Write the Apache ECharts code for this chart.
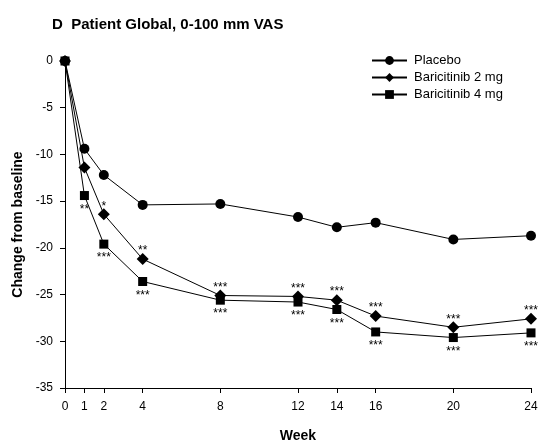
<!DOCTYPE html>
<html>
<head>
<meta charset="utf-8">
<script src="https://cdn.jsdelivr.net/npm/echarts@6/dist/echarts.min.js"></script>
<style>
  html, body { margin: 0; padding: 0; background: #fff; }
  #chart { width: 542px; height: 444px; }
</style>
</head>
<body>
<div id="chart"></div>
<script>
// Weeks of assessment
const weeks = [0, 1, 2, 4, 8, 12, 14, 16, 20, 24];
const yTicks = [0, -5, -10, -15, -20, -25, -30, -35];

// Mean change from baseline, Patient Global VAS (mm)
const placebo = [0, -9.4, -12.2, -15.4, -15.3, -16.7, -17.8, -17.3, -19.1, -18.7];
const bari2 = [0, -11.4, -16.4, -21.2, -25.1, -25.2, -25.6, -27.3, -28.5, -27.6];
const bari4 = [0, -14.4, -19.6, -23.6, -25.6, -25.8, -26.6, -29.0, -29.6, -29.1];

// Significance markers vs placebo
const sig2 = ['', '', '*', '**', '***', '***', '***', '***', '***', '***'];
const sig4 = ['', '**', '***', '***', '***', '***', '***', '***', '***', '***'];

const FONT = '"Liberation Sans", Arial, sans-serif';

function pairs(vals, sig) {
  return weeks.map((w, i) => ({ value: [w, vals[i]], sig: sig ? sig[i] : '' }));
}

// asterisks sit high in the em box, so the offset is measured from the marker centre
const sigLabel = dy => ({
  show: true,
  position: 'inside',
  offset: [0, dy],
  fontFamily: FONT,
  fontSize: 12,
  color: '#000',
  formatter: p => p.data.sig
});

const chart = echarts.init(document.getElementById('chart'), null, { renderer: 'canvas' });

chart.setOption({
  animation: false,
  backgroundColor: '#fff',
  title: {
    text: 'D  Patient Global, 0-100 mm VAS',
    left: 47,
    top: 12,
    textStyle: { fontFamily: FONT, fontSize: 15, fontWeight: 'bold', color: '#000' }
  },
  legend: {
    orient: 'vertical',
    left: 371,
    top: 54,
    itemWidth: 35,
    itemHeight: 11,
    itemGap: 4,
    padding: 0,
    textStyle: { fontFamily: FONT, fontSize: 13, color: '#000', padding: [0, 0, 0, 2] },
    data: ['Placebo', 'Baricitinib 2 mg', 'Baricitinib 4 mg']
  },
  grid: { left: 65, right: 11, top: 61, bottom: 56, outerBoundsMode: 'none' },
  xAxis: {
    type: 'value',
    min: 0,
    max: 24,
    name: 'Week',
    nameLocation: 'middle',
    nameGap: 41,
    nameTextStyle: { fontFamily: FONT, fontSize: 14, fontWeight: 'bold', color: '#000' },
    axisLine: { onZero: false, lineStyle: { color: '#000', width: 1 } },
    axisTick: { show: true, length: 5, customValues: weeks, lineStyle: { color: '#000' } },
    axisLabel: { customValues: weeks, fontFamily: FONT, fontSize: 12, color: '#000', margin: 13 },
    splitLine: { show: false }
  },
  yAxis: {
    type: 'value',
    min: -35,
    max: 0,
    interval: 5,
    name: 'Change from baseline',
    nameLocation: 'middle',
    nameGap: 40,
    nameTextStyle: { fontFamily: FONT, fontSize: 14, fontWeight: 'bold', color: '#000' },
    axisLine: { show: true, onZero: false, lineStyle: { color: '#000', width: 1 } },
    axisTick: { show: true, length: 5, lineStyle: { color: '#000' } },
    axisLabel: { customValues: yTicks, fontFamily: FONT, fontSize: 12, color: '#000', margin: 12 },
    splitLine: { show: false }
  },
  series: [
    {
      name: 'Placebo',
      type: 'line',
      data: pairs(placebo),
      symbol: 'circle',
      symbolSize: 10,
      lineStyle: { color: '#000', width: 1 },
      itemStyle: { color: '#000' },
      z: 3
    },
    {
      name: 'Baricitinib 2 mg',
      type: 'line',
      data: pairs(bari2, sig2),
      symbol: 'diamond',
      symbolSize: 12,
      lineStyle: { color: '#000', width: 1 },
      itemStyle: { color: '#000' },
      label: sigLabel(-8),
      z: 4
    },
    {
      name: 'Baricitinib 4 mg',
      type: 'line',
      data: pairs(bari4, sig4),
      symbol: 'rect',
      symbolSize: 9,
      lineStyle: { color: '#000', width: 1 },
      itemStyle: { color: '#000' },
      label: sigLabel(14),
      z: 5
    }
  ]
});
</script>
</body>
</html>
